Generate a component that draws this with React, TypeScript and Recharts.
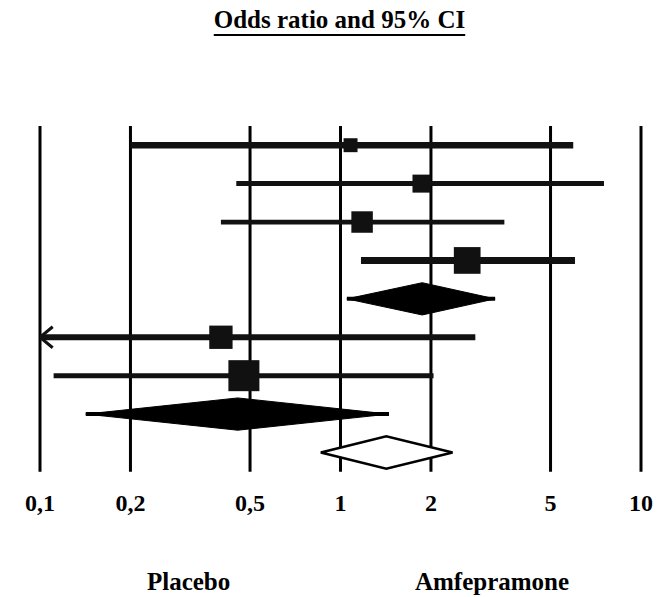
import React from "react";
import { ScatterChart, Scatter, XAxis, YAxis, CartesianGrid } from "recharts";

// ---- data ----
const xTicks = [0.1, 0.2, 0.5, 1, 2, 5, 10];

const studyRows = [1, 2, 3, 4, 6, 7];
const studyOR = [1.08, 1.86, 1.18, 2.64, 0.4, 0.477];
const studyLower = [0.2, 0.45, 0.4, 1.17, 0.1, 0.111];
const studyUpper = [5.95, 7.53, 3.51, 6.03, 2.81, 2.04];
const studyWeight = [5.4, 9, 12.8, 19.8, 15.1, 26.7];
const lowerTruncated = [false, false, false, false, true, false];

const pooledRows = [5, 8, 9];
const pooledOR = [1.87, 0.455, 1.42];
const pooledLower = [1.05, 0.142, 0.86];
const pooledUpper = [3.27, 1.45, 2.36];
const pooledFilled = [true, true, false];

const groupLabels = ["Placebo", "Amfepramone"];

// ---- styles ----
const FONT = '"Liberation Serif", "Times New Roman", serif';
const DIAMOND_HALF = 0.42;
const ciStrokeWidths = [6.5, 5, 4.8, 7, 6, 5];

const fmt = (v: number) => String(v).replace(".", ",");

const Tick = (props: any) => {
  const { x, y, payload } = props;
  return (
    <text
      x={x}
      y={y + 39}
      textAnchor="middle"
      fontFamily={FONT}
      fontWeight="bold"
      fontSize={24}
      fill="#000"
    >
      {fmt(payload.value)}
    </text>
  );
};

const Empty = () => <g />;

const SquareShape = (props: any) => {
  const { cx, cy, payload } = props;
  const s = 6 * Math.sqrt(payload.w);
  return <rect x={cx - s / 2} y={cy - s / 2} width={s} height={s} fill="#111" />;
};

const ArrowShape = (props: any) => {
  const { cx, cy } = props;
  return (
    <polyline
      points={`${cx + 12.7},${cy - 10.5} ${cx},${cy} ${cx + 12.7},${cy + 10.5}`}
      fill="none"
      stroke="#111"
      strokeWidth={3}
    />
  );
};

const diamondLine = (filled: boolean) => (props: any) => {
  const pts = (props.points || []).map((p: any) => `${p.x},${p.y}`).join(" ");
  return (
    <polygon
      points={pts}
      fill={filled ? "#000" : "#fff"}
      stroke="#000"
      strokeWidth={filled ? 1 : 2.5}
    />
  );
};

export default function App() {
  const studies = studyRows.map((r, i) => ({
    x: studyOR[i],
    y: r,
    w: studyWeight[i],
  }));
  const arrows = studyRows
    .map((r, i) => ({ x: studyLower[i], y: r, t: lowerTruncated[i] }))
    .filter((d) => d.t);

  return (
    <div style={{ position: "relative", width: 663, height: 589 }}>
      <div
        style={{
          position: "absolute",
          left: 0,
          top: -1,
          width: 663,
          textAlign: "center",
          fontFamily: FONT,
          fontWeight: "bold",
          fontSize: 25,
          lineHeight: "25px",
          textDecoration: "underline",
          textDecorationThickness: "2px",
          textUnderlineOffset: "6px",
          color: "#000",
        }}
      >
        Odds ratio and 95% CI
      </div>
      <ScatterChart
        width={663}
        height={589}
        margin={{ top: 118, right: 30, bottom: 95.3, left: 32 }}
        style={{ position: "absolute", left: 0, top: 0 }}
      >
        <CartesianGrid horizontal={false} vertical stroke="#000" strokeWidth={3} />
        <XAxis
          dataKey="x"
          type="number"
          scale="log"
          domain={[0.1, 10]}
          ticks={xTicks}
          interval={0}
          allowDataOverflow
          axisLine={false}
          tickLine={false}
          tickSize={0}
          tickMargin={0}
          height={30}
          tick={(p: any) => <Tick {...p} />}
        />
        <YAxis dataKey="y" type="number" domain={[0.5, 9.5]} reversed hide />

        {studyRows.map((r, i) => (
          <Scatter
            key={`ci-${r}`}
            data={[
              { x: studyLower[i], y: r },
              { x: studyUpper[i], y: r },
            ]}
            line={{ stroke: "#111", strokeWidth: ciStrokeWidths[i] }}
            shape={Empty}
            isAnimationActive={false}
          />
        ))}

        <Scatter data={studies} shape={SquareShape} isAnimationActive={false} />
        <Scatter data={arrows} shape={ArrowShape} isAnimationActive={false} />

        {pooledRows.map((r, i) =>
          pooledFilled[i] ? (
            <Scatter
              key={`pl-${r}`}
              data={[
                { x: pooledLower[i], y: r },
                { x: pooledUpper[i], y: r },
              ]}
              line={{ stroke: "#000", strokeWidth: 4 }}
              shape={Empty}
              isAnimationActive={false}
            />
          ) : null
        )}

        {pooledRows.map((r, i) => (
          <Scatter
            key={`pd-${r}`}
            data={[
              { x: pooledLower[i], y: r },
              { x: pooledOR[i], y: r - DIAMOND_HALF },
              { x: pooledUpper[i], y: r },
              { x: pooledOR[i], y: r + DIAMOND_HALF },
              { x: pooledLower[i], y: r },
            ]}
            line={diamondLine(pooledFilled[i])}
            shape={Empty}
            isAnimationActive={false}
          />
        ))}

        <text
          x={180.6}
          y={582}
          textAnchor="middle"
          fontFamily={FONT}
          fontWeight="bold"
          fontSize={25}
          fill="#000"
        >
          {groupLabels[0]}
        </text>
        <text
          x={484}
          y={582}
          textAnchor="middle"
          fontFamily={FONT}
          fontWeight="bold"
          fontSize={25}
          fill="#000"
        >
          {groupLabels[1]}
        </text>
      </ScatterChart>
    </div>
  );
}
